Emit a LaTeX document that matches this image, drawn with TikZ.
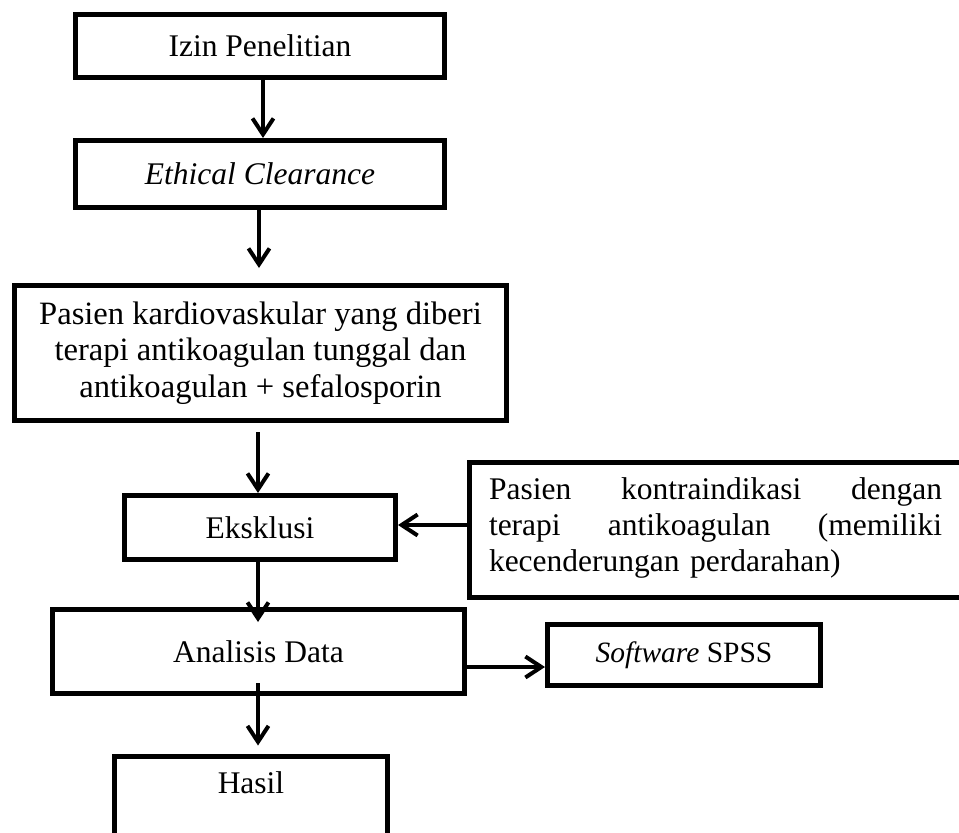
\documentclass[tikz,border=0pt]{standalone}
\usepackage{fontspec}
\setmainfont{Liberation Serif}
\usetikzlibrary{arrows.meta,calc}
\begin{document}
\begin{tikzpicture}[x=1pt,y=-1pt,
  txt/.style={font=\fontsize{31.5}{36.5}\selectfont, inner sep=0pt},
  box/.style={draw, line width=5pt, txt},
  arr/.style={line width=4pt, -{Straight Barb[length=16pt,width=21pt]}}]
\useasboundingbox (0,0) rectangle (959,833);
\clip (0,0) rectangle (959,833);
\node[box, minimum width=369pt, minimum height=63pt] (izin) at (260,46) {Izin Penelitian};
\node[box, minimum width=369pt, minimum height=67pt] (eth) at (260,174) {\textit{Ethical Clearance}};
\node[box, minimum width=492pt, minimum height=135pt, align=center, font=\fontsize{32.6}{36.5}\selectfont] (pas) at (260.5,353)
  {Pasien kardiovaskular yang diberi\\terapi antikoagulan tunggal dan\\antikoagulan + sefalosporin};
\node[box, minimum width=271pt, minimum height=64pt] (eks) at (260,527.5) {Eksklusi};
\node[box, minimum width=530pt, minimum height=135pt] (kontra) at (734.5,530) {};
\node[txt, text width=453pt, align=left, font=\fontsize{31.5}{36}\selectfont] (kontratxt) at (715.5,528)
  {\makebox[453pt]{Pasien\hfill kontraindikasi\hfill dengan}\\
   \makebox[453pt]{terapi\hfill antikoagulan\hfill (memiliki}\\
   kecenderungan perdarahan)};
\node[box, minimum width=412pt, minimum height=84pt] (ana) at (258.5,651.5) {Analisis Data};
\node[box, minimum width=273pt, minimum height=61pt, font=\fontsize{29.5}{34}\selectfont] (spss) at (684,655) {\textit{Software} SPSS};
\node[box, minimum width=273pt, minimum height=120pt, anchor=north] (hasil) at (251,753.5) {};
\node[txt] (hasiltxt) at (251,783) {Hasil};
\draw[arr] ($(izin.south)+(3,0)$) -- ($(eth.north)+(3,0)$);
\draw[arr] ($(eth.south)+(-1,0)$) -- ($(pas.north)+(-1.5,-15)$);
\draw[arr] ($(pas.south)+(-2.5,9)$) -- ($(eks.north)+(-2,0)$);
\draw[arr] (kontra.west |- 0,525) -- (eks.east |- 0,525);
\draw[arr] ($(eks.south)+(-2,0)$) -- ($(ana.north)+(-0.5,15)$);
\draw[arr] ($(ana.east)+(0,15.5)$) -- ($(spss.west)+(0,12)$);
\draw[arr] ($(ana.south)+(-0.5,-13)$) -- ($(hasil.north)+(7,-8)$);
\end{tikzpicture}
\end{document}
